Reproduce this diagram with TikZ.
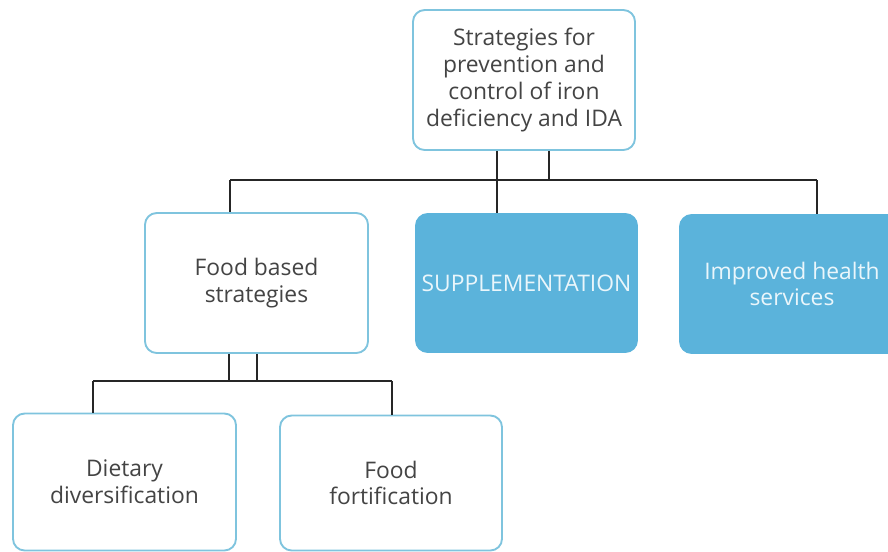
\documentclass[tikz,border=0pt]{standalone}
\usepackage{fontspec}
\setmainfont{Open Sans}
\definecolor{boxline}{HTML}{7FC4DE}
\definecolor{boxfill}{HTML}{5BB3DB}
\definecolor{boxtext}{HTML}{444444}
\definecolor{filltext}{HTML}{EAF6FB}
\tikzset{
  plainbox/.style={draw=boxline, line width=1.6pt, rounded corners=10pt, fill=white,
    text=boxtext, align=center, inner sep=0pt,
    font=\fontsize{19.5}{22.8}\selectfont},
  bluebox/.style={plainbox, draw=boxfill, fill=boxfill, text=filltext},
  link/.style={draw=black!85, line width=1.2pt}
}
\begin{document}
\begin{tikzpicture}[x=0.03cm, y=-0.03cm]
  \useasboundingbox (0,0) rectangle (888,551);
  \clip (0,0) rectangle (888,551);

  % boxes
  \node[plainbox, minimum width=6.66cm, minimum height=4.2cm] (strat) at (524,80)
    {Strategies for\\prevention and\\control of iron\\deficiency and IDA};
  \node[plainbox, minimum width=6.69cm, minimum height=4.2cm] (food) at (256.5,283)
    {Food based\\strategies};
  \node[bluebox, minimum width=6.63cm, minimum height=4.14cm] (supp) at (526.5,283)
    {SUPPLEMENTATION};
  \node[bluebox, minimum width=6.72cm, minimum height=4.14cm] (health) at (792,284)
    {Improved health\\services};
  \node[plainbox, minimum width=6.69cm, minimum height=4.11cm] (diet) at (124.5,482)
    {Dietary\\diversification};
  \node[plainbox, minimum width=6.66cm, minimum height=4.05cm] (fort) at (391,483)
    {Food\\fortification};

  % joints
  \coordinate (j1) at (230,180);
  \coordinate (j2) at (817,180);
  \coordinate (t1) at (497,180);
  \coordinate (t2) at (549,180);
  \coordinate (b1) at (93,381);
  \coordinate (b2) at (392,381);
  \coordinate (f1) at (229,381);
  \coordinate (f2) at (257,381);

  % connectors
  \draw[link] (j1) -- (j2);
  \draw[link] (j1) -- (j1 |- food.north);
  \draw[link] (j2) -- (j2 |- health.north);
  \draw[link] (t1 |- strat.south) -- (t1 |- supp.north);
  \draw[link] (t2 |- strat.south) -- (t2);

  \draw[link] (b1) -- (b2);
  \draw[link] (b1) -- (b1 |- diet.north);
  \draw[link] (b2) -- (b2 |- fort.north);
  \draw[link] (f1 |- food.south) -- (f1);
  \draw[link] (f2 |- food.south) -- (f2);
\end{tikzpicture}
\end{document}
